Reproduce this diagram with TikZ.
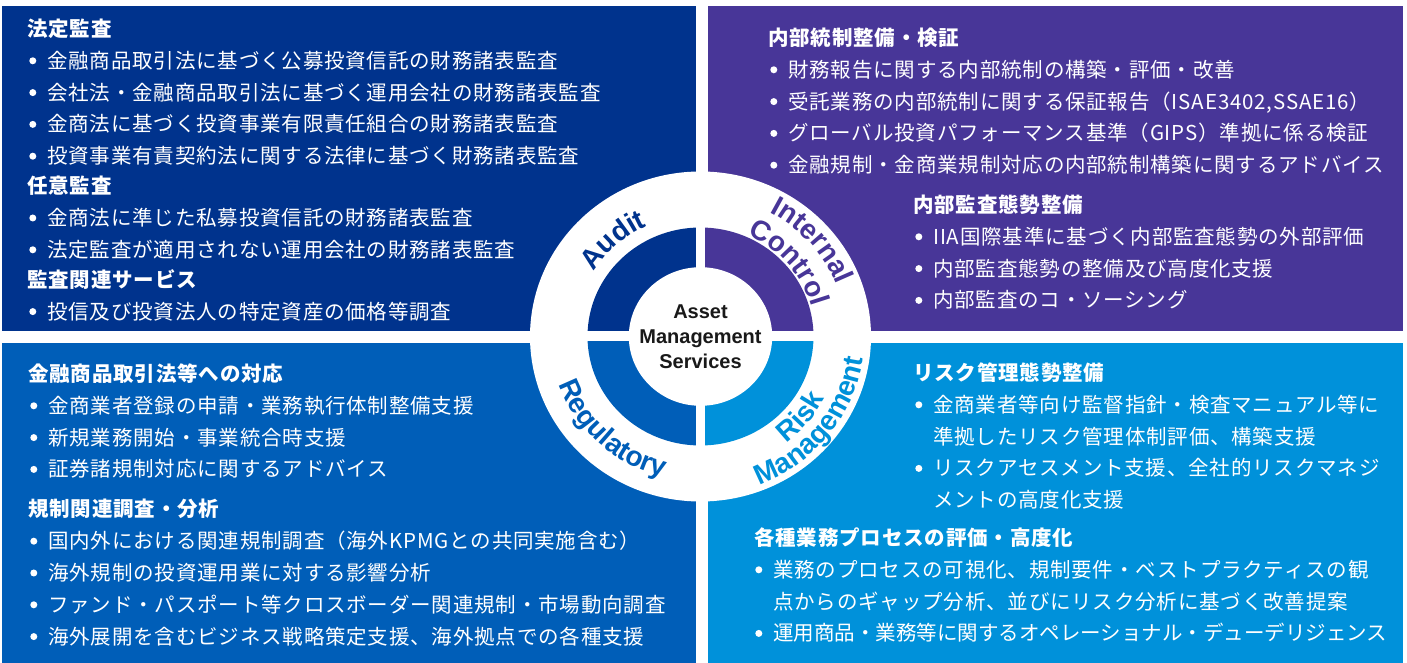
\documentclass[tikz,border=0pt]{standalone}
\usepackage{fontspec}
\setmainfont{Liberation Sans}
\newfontfamily\jpfont{Noto Sans CJK JP}[LetterSpace=4]
\usepackage{tikz}
\usetikzlibrary{positioning, decorations.text}

\definecolor{kpmgblue}{HTML}{00338D}
\definecolor{kpmgviolet}{HTML}{483698}
\definecolor{kpmgmid}{HTML}{005EB8}
\definecolor{kpmglight}{HTML}{0091DA}

\newcommand{\jpbody}{\jpfont\fontsize{20.5}{24}\selectfont}
\newcommand{\jphead}{\jpfont\bfseries\fontsize{20.5}{24}\selectfont}
\newcommand{\ringlbl}{\bfseries\fontsize{28}{28}\selectfont}
\newcommand{\ringcore}{\bfseries\fontsize{20}{25}\selectfont}

\tikzstyle{heading} = [anchor=west, inner sep=0, text=white, font=\jphead, text height=16pt, text depth=1pt]
\tikzstyle{bulletdot} = [circle, fill=white, inner sep=0, minimum size=7pt, xshift=-10.5pt]
\tikzstyle{entry} = [heading, font=\jpbody, label={[bulletdot]left:{}}]
\tikzstyle{wrapline} = [heading, font=\jpbody]
\tikzset{nextline/.style={below=#1, anchor=west}}
\tikzset{ringtext/.style 2 args={decorate, decoration={text along path, text align=center, text color=#1, text={|\ringlbl|#2}}}}

\begin{document}
\begin{tikzpicture}[x=1pt, y=1pt, node distance=31.8pt]
\useasboundingbox (0,0) rectangle (1407,663);

\fill[kpmgblue] (2,332) rectangle (696,657);
\fill[kpmgviolet] (708,332) rectangle (1403,657);
\fill[kpmgmid] (2,0) rectangle (696,320);
\fill[kpmglight] (708,0) rectangle (1403,320);

\coordinate (hub) at (700.5,326.5);
\fill[white] (hub) ellipse [x radius=170.5, y radius=165];
\fill[kpmgviolet] (hub) -- ++(0:113 and 109) arc[start angle=0, end angle=90, x radius=113, y radius=109] -- cycle;
\fill[kpmgblue] (hub) -- ++(90:113 and 109) arc[start angle=90, end angle=180, x radius=113, y radius=109] -- cycle;
\fill[kpmgmid] (hub) -- ++(180:113 and 109) arc[start angle=180, end angle=270, x radius=113, y radius=109] -- cycle;
\fill[kpmglight] (hub) -- ++(270:113 and 109) arc[start angle=270, end angle=360, x radius=113, y radius=109] -- cycle;
\fill[white] (hub) ellipse [x radius=71.7, y radius=69.3];
\fill[white] (hub) ++(-4.5,-115) rectangle ++(9,230);
\fill[white] (hub) ++(-115,-5) rectangle ++(230,10);

\node (core) [align=center, font=\ringcore, text=black!90] at (hub) {Asset\\Management\\Services};

\path[ringtext={kpmgblue}{Audit}] ([shift={(182:126 and 122)}]hub) arc[start angle=182, end angle=82, x radius=126, y radius=122];
\path[ringtext={kpmgviolet}{Internal}] ([shift={(101:146 and 141)}]hub) arc[start angle=101, end angle=-19, x radius=146, y radius=141];
\path[ringtext={kpmgviolet}{Control}] ([shift={(100:115 and 111)}]hub) arc[start angle=100, end angle=-20, x radius=115, y radius=111];
\path[ringtext={kpmgmid}{Regulatory}] ([shift={(167:150 and 145)}]hub) arc[start angle=167, end angle=287, x radius=150, y radius=145];
\path[ringtext={kpmglight}{Risk}] ([shift={(-99:140 and 135)}]hub) arc[start angle=-99, end angle=21, x radius=140, y radius=135];
\path[ringtext={kpmglight}{Management}] ([shift={(-98:164 and 159)}]hub) arc[start angle=-98, end angle=22, x radius=164, y radius=159];

\node (tl1) [heading] at (27,634) {法定監査};
\node (tl2) [entry, nextline=of tl1.west, xshift=20pt] {金融商品取引法に基づく公募投資信託の財務諸表監査};
\node (tl3) [entry, nextline=of tl2.west] {会社法・金融商品取引法に基づく運用会社の財務諸表監査};
\node (tl4) [entry, nextline=of tl3.west] {金商法に基づく投資事業有限責任組合の財務諸表監査};
\node (tl5) [entry, nextline=of tl4.west] {投資事業有責契約法に関する法律に基づく財務諸表監査};
\node (tl6) [heading, nextline=30pt of tl5.west, xshift=-20pt] {任意監査};
\node (tl7) [entry, nextline=of tl6.west, xshift=20pt] {金商法に準じた私募投資信託の財務諸表監査};
\node (tl8) [entry, nextline=of tl7.west] {法定監査が適用されない運用会社の財務諸表監査};
\node (tl9) [heading, nextline=30pt of tl8.west, xshift=-20pt] {監査関連サービス};
\node (tl10) [entry, nextline=of tl9.west, xshift=20pt] {投信及び投資法人の特定資産の価格等調査};

\node (tr1) [heading] at (768,625) {内部統制整備・検証};
\node (tr2) [entry, nextline=of tr1.west, xshift=20pt] {財務報告に関する内部統制の構築・評価・改善};
\node (tr3) [entry, nextline=of tr2.west] {受託業務の内部統制に関する保証報告（ISAE3402,SSAE16）};
\node (tr4) [entry, nextline=of tr3.west] {グローバル投資パフォーマンス基準（GIPS）準拠に係る検証};
\node (tr5) [entry, nextline=of tr4.west] {金融規制・金商業規制対応の内部統制構築に関するアドバイス};
\node (tr6) [heading] at (913,458) {内部監査態勢整備};
\node (tr7) [entry, nextline=of tr6.west, xshift=20pt] {IIA国際基準に基づく内部監査態勢の外部評価};
\node (tr8) [entry, nextline=of tr7.west] {内部監査態勢の整備及び高度化支援};
\node (tr9) [entry, nextline=of tr8.west] {内部監査のコ・ソーシング};

\node (bl1) [heading] at (28,289) {金融商品取引法等への対応};
\node (bl2) [entry, nextline=of bl1.west, xshift=20pt] {金商業者登録の申請・業務執行体制整備支援};
\node (bl3) [entry, nextline=of bl2.west] {新規業務開始・事業統合時支援};
\node (bl4) [entry, nextline=of bl3.west] {証券諸規制対応に関するアドバイス};
\node (bl5) [heading, nextline=40pt of bl4.west, xshift=-20pt] {規制関連調査・分析};
\node (bl6) [entry, nextline=of bl5.west, xshift=20pt] {国内外における関連規制調査（海外KPMGとの共同実施含む）};
\node (bl7) [entry, nextline=of bl6.west] {海外規制の投資運用業に対する影響分析};
\node (bl8) [entry, nextline=of bl7.west] {ファンド・パスポート等クロスボーダー関連規制・市場動向調査};
\node (bl9) [entry, nextline=of bl8.west] {海外展開を含むビジネス戦略策定支援、海外拠点での各種支援};

\node (br1) [heading] at (913,290) {リスク管理態勢整備};
\node (br2) [entry, nextline=of br1.west, xshift=20pt] {金商業者等向け監督指針・検査マニュアル等に};
\node (br3) [wrapline, nextline=of br2.west] {準拠したリスク管理体制評価、構築支援};
\node (br4) [entry, nextline=of br3.west] {リスクアセスメント支援、全社的リスクマネジ};
\node (br5) [wrapline, nextline=of br4.west] {メントの高度化支援};
\node (br6) [heading] at (754,125) {各種業務プロセスの評価・高度化};
\node (br7) [entry, nextline=of br6.west, xshift=19pt] {業務のプロセスの可視化、規制要件・ベストプラクティスの観};
\node (br8) [wrapline, nextline=of br7.west] {点からのギャップ分析、並びにリスク分析に基づく改善提案};
\node (br9) [entry, nextline=of br8.west] {{\addfontfeature{LetterSpace=0}運用商品・業務等に関するオペレーショナル・デューデリジェンス}};

\end{tikzpicture}
\end{document}
